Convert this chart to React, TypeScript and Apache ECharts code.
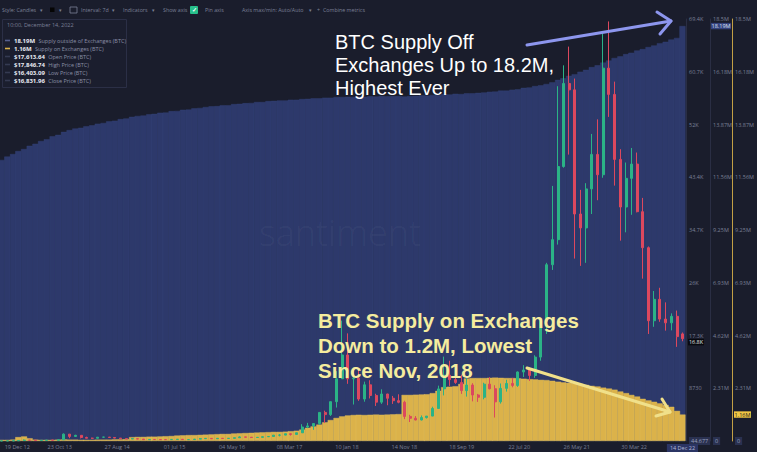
import React, { useEffect, useRef } from 'react';
import * as echarts from 'echarts';

// ---------- data ----------
const months: string[] = [
  '2012-12-15',
  '2013-01-15', '2013-02-15', '2013-03-15', '2013-04-15', '2013-05-15', '2013-06-15', '2013-07-15', '2013-08-15', '2013-09-15', '2013-10-15', '2013-11-15', '2013-12-15',
  '2014-01-15', '2014-02-15', '2014-03-15', '2014-04-15', '2014-05-15', '2014-06-15', '2014-07-15', '2014-08-15', '2014-09-15', '2014-10-15', '2014-11-15', '2014-12-15',
  '2015-01-15', '2015-02-15', '2015-03-15', '2015-04-15', '2015-05-15', '2015-06-15', '2015-07-15', '2015-08-15', '2015-09-15', '2015-10-15', '2015-11-15', '2015-12-15',
  '2016-01-15', '2016-02-15', '2016-03-15', '2016-04-15', '2016-05-15', '2016-06-15', '2016-07-15', '2016-08-15', '2016-09-15', '2016-10-15', '2016-11-15', '2016-12-15',
  '2017-01-15', '2017-02-15', '2017-03-15', '2017-04-15', '2017-05-15', '2017-06-15', '2017-07-15', '2017-08-15', '2017-09-15', '2017-10-15', '2017-11-15', '2017-12-15',
  '2018-01-15', '2018-02-15', '2018-03-15', '2018-04-15', '2018-05-15', '2018-06-15', '2018-07-15', '2018-08-15', '2018-09-15', '2018-10-15', '2018-11-15', '2018-12-15',
  '2019-01-15', '2019-02-15', '2019-03-15', '2019-04-15', '2019-05-15', '2019-06-15', '2019-07-15', '2019-08-15', '2019-09-15', '2019-10-15', '2019-11-15', '2019-12-15',
  '2020-01-15', '2020-02-15', '2020-03-15', '2020-04-15', '2020-05-15', '2020-06-15', '2020-07-15', '2020-08-15', '2020-09-15', '2020-10-15', '2020-11-15', '2020-12-15',
  '2021-01-15', '2021-02-15', '2021-03-15', '2021-04-15', '2021-05-15', '2021-06-15', '2021-07-15', '2021-08-15', '2021-09-15', '2021-10-15', '2021-11-15', '2021-12-15',
  '2022-01-15', '2022-02-15', '2022-03-15', '2022-04-15', '2022-05-15', '2022-06-15', '2022-07-15', '2022-08-15', '2022-09-15', '2022-10-15', '2022-11-15', '2022-12-14',
];

// Supply outside of exchanges, millions BTC
const supplyOutside: number[] = [
  12.32,
  12.47, 12.58, 12.71, 12.80, 12.94, 13.03, 13.15, 13.23, 13.36, 13.42, 13.55, 13.63,
  13.70, 13.73, 13.80, 13.84, 13.91, 13.94, 14.01, 14.04, 14.11, 14.14, 14.21, 14.25,
  14.27, 14.32, 14.34, 14.39, 14.40, 14.46, 14.47, 14.52, 14.53, 14.58, 14.60, 14.64,
  14.67, 14.68, 14.72, 14.72, 14.77, 14.78, 14.81, 14.82, 14.86, 14.86, 14.90, 14.91,
  14.93, 14.93, 14.96, 14.96, 14.99, 15.00, 15.02, 15.02, 15.05, 15.05, 15.08, 15.08,
  15.09, 15.08, 15.10, 15.09, 15.11, 15.10, 15.12, 15.11, 15.12, 15.12, 15.10, 15.12,
  15.13, 15.15, 15.14, 15.17, 15.17, 15.20, 15.19, 15.22, 15.21, 15.24, 15.24, 15.26,
  15.28, 15.31, 15.32, 15.36, 15.36, 15.40, 15.42, 15.48, 15.50, 15.56, 15.59, 15.65,
  15.72, 15.83, 15.90, 16.01, 16.08, 16.19, 16.27, 16.39, 16.47, 16.59, 16.68, 16.79,
  16.86, 16.96, 17.02, 17.12, 17.18, 17.27, 17.34, 17.44, 17.50, 17.60, 17.67, 18.19,
];

// Supply on exchanges, millions BTC
const supplyOn: number[] = [
  0.05,
  0.05, 0.06, 0.17, 0.20, 0.12, 0.06, 0.05, 0.05, 0.05, 0.06, 0.07, 0.06,
  0.06, 0.05, 0.05, 0.05, 0.06, 0.06, 0.06, 0.07, 0.07, 0.08, 0.17, 0.18,
  0.18, 0.19, 0.19, 0.20, 0.21, 0.22, 0.24, 0.25, 0.26, 0.26, 0.27, 0.28,
  0.29, 0.30, 0.31, 0.31, 0.33, 0.34, 0.35, 0.36, 0.37, 0.38, 0.39, 0.40,
  0.40, 0.41, 0.43, 0.45, 0.50, 0.58, 0.64, 0.72, 0.82, 0.92, 1.01, 1.08,
  1.12, 1.14, 1.15, 1.14, 1.15, 1.16, 1.15, 1.16, 1.17, 1.18, 2.02, 2.02,
  2.03, 2.04, 2.05, 2.10, 2.20, 2.36, 2.38, 2.40, 2.50, 2.74, 2.76, 2.76,
  2.76, 2.77, 2.78, 2.77, 2.76, 2.76, 2.75, 2.73, 2.71, 2.70, 2.68, 2.67,
  2.64, 2.60, 2.57, 2.55, 2.54, 2.50, 2.46, 2.42, 2.39, 2.34, 2.30, 2.25,
  2.17, 2.10, 2.02, 1.95, 1.85, 1.78, 1.72, 1.65, 1.58, 1.50, 1.32, 1.16,
];

// BTC price [open, high, low, close], USD
const ohlc: [number, number, number, number][] = [
  [12.5, 13.9, 12.5, 13.5],
  [13.5, 20.4, 13.2, 20.4], [20.4, 33.5, 19.1, 33.4], [33.4, 95, 33.2, 93], [93, 266, 50, 139], [139, 140, 78, 129], [129, 129, 88, 97],
  [97, 111, 65, 106], [106, 140, 102, 140], [140, 140, 117, 133], [133, 210, 100, 204], [204, 1242, 196, 1130], [1130, 1150, 455, 754],
  [754, 1022, 735, 935], [935, 940, 420, 580], [580, 710, 440, 457], [457, 545, 340, 448], [448, 630, 432, 628], [628, 680, 555, 640],
  [640, 650, 570, 580], [580, 600, 440, 480], [480, 490, 365, 386], [386, 415, 290, 338], [338, 460, 320, 378], [378, 455, 310, 320],
  [320, 320, 170, 217], [217, 265, 212, 254], [254, 300, 235, 244], [244, 261, 215, 236], [236, 247, 225, 230], [230, 267, 217, 263],
  [263, 317, 254, 284], [284, 285, 199, 230], [230, 247, 224, 236], [236, 334, 235, 314], [314, 496, 298, 378], [378, 465, 349, 430],
  [430, 462, 354, 369], [369, 448, 366, 437], [437, 439, 404, 416], [416, 467, 414, 448], [448, 548, 444, 531], [531, 780, 510, 673],
  [673, 704, 605, 624], [624, 626, 480, 575], [575, 627, 571, 609], [609, 720, 605, 701], [701, 755, 681, 745], [745, 975, 742, 964],
  [964, 1150, 755, 970], [970, 1210, 940, 1190], [1190, 1290, 890, 1080], [1080, 1350, 1070, 1348], [1348, 2760, 1340, 2300], [2300, 2980, 2110, 2480],
  [2480, 2930, 1840, 2875], [2875, 4740, 2670, 4700], [4700, 4990, 2950, 4340], [4340, 6470, 4120, 6470], [6470, 11500, 5500, 10230], [10230, 19800, 10600, 14150],
  [14150, 17700, 9400, 10220], [10220, 11800, 6000, 10330], [10330, 11700, 6600, 6900], [6900, 9760, 6460, 9240], [9240, 9990, 7000, 7490], [7490, 7770, 5760, 6390],
  [6390, 8500, 6100, 7730], [7730, 7760, 5880, 7030], [7030, 7410, 6100, 6630], [6630, 7680, 6200, 6370], [6370, 6620, 3600, 4040], [4040, 4310, 3120, 3740],
  [3740, 4100, 3400, 3460], [3460, 4200, 3390, 3850], [3850, 4100, 3700, 4100], [4100, 5640, 4080, 5350], [5350, 9100, 5330, 8570], [8570, 13880, 7500, 10820],
  [10820, 13200, 9060, 10090], [10090, 12300, 9400, 9630], [9630, 10900, 7750, 8290], [8290, 10370, 7300, 9200], [9200, 9510, 6520, 7570], [7570, 7740, 6430, 7190],
  [7190, 9580, 6860, 9350], [9350, 10500, 8490, 8600], [8600, 9170, 3860, 6440], [6440, 9460, 6150, 8660], [8660, 10070, 8120, 9460], [9460, 10380, 8830, 9140],
  [9140, 11440, 8900, 11350], [11350, 12470, 10530, 11680], [11680, 12070, 9880, 10780], [10780, 14100, 10380, 13800], [13800, 19750, 13200, 19700], [19700, 29300, 17600, 28990],
  [28990, 41950, 28130, 33110], [33110, 58350, 32300, 45140], [45140, 61780, 44950, 58800], [58800, 64860, 47100, 57750], [57750, 59600, 30000, 37330], [37330, 41300, 28800, 35040],
  [35040, 42400, 29300, 41460], [41460, 50500, 37330, 47130], [47130, 52900, 39600, 43790], [43790, 67000, 43290, 61320], [61320, 69000, 53300, 57000], [57000, 59100, 42000, 46310],
  [46310, 47990, 32950, 38480], [38480, 45800, 34320, 43190], [43190, 48190, 37200, 45540], [45540, 47440, 37600, 37710], [37710, 39980, 26700, 31790], [31790, 31990, 17600, 19780],
  [19780, 24670, 18780, 23300], [23300, 25200, 19600, 20050], [20050, 22800, 18150, 19430], [19430, 20990, 18190, 20500], [20500, 21450, 15480, 17170], [17613.64, 17846.74, 16403.09, 16831.96],
];

const priceTickLabels = ['44.677', '8730', '17.3K', '26K', '34.7K', '43.4K', '52K', '60.7K', '69.4K'];
const supplyTickLabels = ['0', '2.31M', '4.62M', '6.93M', '9.25M', '11.56M', '13.87M', '16.18M', '18.5M'];
const dateTickValues = ['2012-12-19', '2013-10-23', '2014-08-27', '2015-07-01', '2016-05-04', '2017-03-08', '2018-01-10', '2018-11-14', '2019-09-18', '2020-07-22', '2021-05-26', '2022-03-30', '2022-12-14'];
const dateTickLabels = ['19 Dec 12', '23 Oct 13', '27 Aug 14', '01 Jul 15', '04 May 16', '08 Mar 17', '10 Jan 18', '14 Nov 18', '18 Sep 19', '22 Jul 20', '26 May 21', '30 Mar 22', '14 Dec 22'];
const toolbarItems: [string, number][] = [
  ['Style: Candles', 2], ['▾', 40], ['▾', 59], ['Interval: 7d', 81], ['▾', 112], ['Indicators', 123], ['▾', 152],
  ['Show axis', 163], ['Pin axis', 205], ['Axis max/min: Auto/Auto', 242], ['▾', 309], ['+', 317], ['Combine metrics', 323],
];
const whiteNote = 'BTC Supply Off\nExchanges Up to 18.2M,\nHighest Ever';
const yellowNote = 'BTC Supply on Exchanges\nDown to 1.2M, Lowest\nSince Nov, 2018';

// ---------- style ----------
const BG = '#1a1d2c';
const FONT = '"Open Sans", "Noto Sans", sans-serif';
const NOTE_FONT = '"Liberation Sans", Arial, sans-serif';
const GRAY = '#7b8097';
const BLUE = '#2d396b';
const YELLOW = '#dbb24a';
const UP = '#2bb386';
const DOWN = '#dc485e';
const PRICE_STEP = 8675;
const SUPPLY_STEP = 2312500;

const ts = (d: string) => Date.parse(d + 'T00:00:00Z');
const fmtUsd = (v: number) => '$' + v.toLocaleString('en-US', { minimumFractionDigits: 2, maximumFractionDigits: 2 });

export default function App() {
  const ref = useRef<HTMLDivElement>(null);

  useEffect(() => {
    document.body.style.margin = '0';
    document.body.style.background = BG;
    const chart = echarts.init(ref.current!, null, { renderer: 'svg' });
    const tickTimes = dateTickValues.map(ts);

    const yAxisBase = (offset: number, lineColor: string, max: number, step: number, labels: string[]) => ({
      type: 'value',
      position: 'right',
      offset,
      min: 0,
      max,
      interval: step,
      axisLine: { show: true, lineStyle: { color: lineColor, width: 1 } },
      axisTick: { show: false },
      splitLine: { show: false },
      axisLabel: {
        margin: 3,
        fontSize: 5.5,
        color: GRAY,
        fontFamily: FONT,
        formatter: (v: number) => {
          const i = Math.round(v / step);
          return i === 0 ? '{box|' + labels[0] + '}' : labels[i];
        },
        rich: { box: { backgroundColor: '#2a3150', color: '#9aa0c0', padding: [1, 2], fontSize: 5.5, fontFamily: FONT } },
      },
    });

    const option: any = {
      animation: false,
      backgroundColor: BG,
      grid: { left: 0, right: 71, top: 19, bottom: 11 },
      tooltip: { show: false },
      xAxis: {
        type: 'value',
        min: ts('2012-12-07'),
        max: ts('2023-01-02'),
        axisLine: { show: false },
        axisTick: { show: false },
        splitLine: { show: false },
        axisLabel: {
          customValues: tickTimes,
          fontSize: 5.5,
          color: GRAY,
          margin: 3,
          fontFamily: FONT,
          formatter: (v: number) => {
            let i = -1;
            tickTimes.forEach((t, k) => { if (Math.abs(t - v) < 43200000) i = k; });
            if (i < 0) return '';
            if (i === 0) return '{first|' + dateTickLabels[i] + '}';
            if (i === dateTickLabels.length - 1) return '{hl|' + dateTickLabels[i] + '}';
            return dateTickLabels[i];
          },
          rich: {
            first: { padding: [0, 0, 0, 30], fontSize: 5.5, color: GRAY, fontFamily: FONT },
            hl: { backgroundColor: '#2b3564', color: '#b3b9d8', padding: [1, 3], fontSize: 5.5, fontFamily: FONT },
          },
        },
      },
      yAxis: [
        yAxisBase(0, '#2a2e44', PRICE_STEP * 8, PRICE_STEP, priceTickLabels),
        yAxisBase(24, '#2a2e44', SUPPLY_STEP * 8, SUPPLY_STEP, supplyTickLabels),
        yAxisBase(46, '#c2a045', SUPPLY_STEP * 8, SUPPLY_STEP, supplyTickLabels),
      ],
      series: [
        {
          name: 'Supply outside of Exchanges (BTC)',
          type: 'bar',
          yAxisIndex: 1,
          barWidth: 6,
          barGap: '-100%',
          itemStyle: { color: BLUE, borderColor: '#35437a', borderWidth: 0.4 },
          data: months.map((m, i) => [ts(m), supplyOutside[i] * 1e6]),
          z: 1,
        },
        {
          name: 'Supply on Exchanges (BTC)',
          type: 'bar',
          yAxisIndex: 2,
          barWidth: 6,
          barGap: '-100%',
          itemStyle: { color: YELLOW, borderColor: '#e6c35e', borderWidth: 0.4 },
          data: months.map((m, i) => [ts(m), supplyOn[i] * 1e6]),
          z: 2,
        },
        {
          name: 'Price (BTC)',
          type: 'candlestick',
          yAxisIndex: 0,
          barWidth: 2.5,
          encode: { x: 0, y: [1, 2, 3, 4] },
          itemStyle: { color: UP, color0: DOWN, borderColor: UP, borderColor0: DOWN, borderWidth: 1 },
          data: months.map((m, i) => [ts(m), ohlc[i][0], ohlc[i][3], ohlc[i][2], ohlc[i][1]]),
          z: 3,
        },
      ],
    };
    chart.setOption(option);

    const last = months.length - 1;
    const yBlue = chart.convertToPixel({ yAxisIndex: 1 }, supplyOutside[last] * 1e6) as number;
    const yYellow = chart.convertToPixel({ yAxisIndex: 2 }, supplyOn[last] * 1e6) as number;
    const yPrice = chart.convertToPixel({ yAxisIndex: 0 }, ohlc[last][3]) as number;

    const legendRows = [
      { v: supplyOutside[last].toFixed(2) + 'M', n: 'Supply outside of Exchanges (BTC)', mark: '#56608f' },
      { v: supplyOn[last].toFixed(2) + 'M', n: 'Supply on Exchanges (BTC)', mark: YELLOW },
      { v: fmtUsd(ohlc[last][0]), n: 'Open Price (BTC)', mark: '#353a52' },
      { v: fmtUsd(ohlc[last][1]), n: 'High Price (BTC)', mark: '#353a52' },
      { v: fmtUsd(ohlc[last][2]), n: 'Low Price (BTC)', mark: '#353a52' },
      { v: fmtUsd(ohlc[last][3]), n: 'Close Price (BTC)', mark: '#353a52' },
    ];

    const g: any[] = [];
    const wm = { type: 'text', x: 340, y: 232, silent: true, z: 50, style: { text: 'santiment', fill: 'rgba(255,255,255,0.05)', font: '300 36px ' + FONT, align: 'center', verticalAlign: 'middle' } };
    toolbarItems.forEach(([t, x]) => {
      g.push({ type: 'text', x, y: 10, style: { text: t, fill: GRAY, font: '5.3px ' + FONT, verticalAlign: 'middle' } });
    });
    g.push({ type: 'rect', shape: { x: 50, y: 7.5, width: 4.5, height: 4.5 }, style: { fill: '#050505' } });
    g.push({ type: 'rect', shape: { x: 70, y: 7, width: 7, height: 6 }, style: { fill: 'none', stroke: GRAY, lineWidth: 0.8 } });
    g.push({ type: 'rect', shape: { x: 190, y: 6, width: 8, height: 8, r: 1 }, style: { fill: '#27c08b' } });
    g.push({ type: 'text', x: 194, y: 10, style: { text: '✓', fill: '#ffffff', font: 'bold 6px ' + FONT, align: 'center', verticalAlign: 'middle' } });
    g.push({ type: 'rect', shape: { x: 2.5, y: 19.5, width: 124, height: 68 }, style: { fill: '#1b1e2e', stroke: '#2b2f46', lineWidth: 1 } });
    g.push({ type: 'text', x: 7, y: 25, style: { text: '10:00, December 14, 2022', fill: GRAY, font: '5.5px ' + FONT, verticalAlign: 'middle' } });
    legendRows.forEach((r, i) => {
      const y = 40.5 + i * 8;
      g.push({ type: 'rect', shape: { x: 5, y: y - 0.8, width: 5, height: 1.6 }, style: { fill: r.mark } });
      g.push({
        type: 'text', x: 14, y,
        style: {
          text: '{v|' + r.v + '} {n|' + r.n + '}', verticalAlign: 'middle',
          rich: {
            v: { fill: '#e8eaf2', font: 'bold 6px ' + FONT },
            n: { fill: '#8a8fa6', font: '5.5px ' + FONT },
          },
        },
      });
    });
    g.push({ type: 'text', x: 335, y: 64.5, style: { text: whiteNote, fill: '#ffffff', font: '20px ' + NOTE_FONT, lineHeight: 23, verticalAlign: 'middle' } });
    g.push({ type: 'text', x: 318, y: 345.5, style: { text: yellowNote, fill: '#f5ec9e', font: 'bold 20.5px ' + NOTE_FONT, lineHeight: 25, verticalAlign: 'middle' } });
    const arrowW = '#8d96ee';
    g.push({ type: 'line', shape: { x1: 527, y1: 45, x2: 671, y2: 21 }, style: { stroke: arrowW, lineWidth: 3, lineCap: 'round' } });
    g.push({ type: 'polyline', shape: { points: [[657, 12], [671, 21], [660, 34]] }, style: { stroke: arrowW, lineWidth: 3, fill: 'none', lineCap: 'round', lineJoin: 'round' } });
    const arrowY = '#f0e08a';
    g.push({ type: 'line', shape: { x1: 527, y1: 368, x2: 670, y2: 412 }, style: { stroke: arrowY, lineWidth: 3, lineCap: 'round' } });
    g.push({ type: 'polyline', shape: { points: [[662, 399], [670, 412], [656, 416]] }, style: { stroke: arrowY, lineWidth: 3, fill: 'none', lineCap: 'round', lineJoin: 'round' } });
    const badge = (x: number, y: number, w: number, text: string, bg: string, fg: string) => {
      g.push({ type: 'rect', shape: { x, y: y - 3.2, width: w, height: 6.4 }, style: { fill: bg } });
      g.push({ type: 'text', x: x + w / 2, y, style: { text, fill: fg, font: '5.5px ' + FONT, lineHeight: 6, align: 'center', verticalAlign: 'middle' } });
    };
    badge(711, yBlue, 20, legendRows[0].v, '#34427e', '#dfe3f5');
    badge(688, yPrice + 3.5, 16, (ohlc[last][3] / 1000).toFixed(1) + 'K', '#08090f', '#e4e4e4');
    badge(734, yYellow, 17, legendRows[1].v, '#f1c644', '#1d1d1d');

    g.forEach((el) => { el.z = 100; });
    g.unshift(wm);
    chart.setOption({ graphic: { elements: g } });
    return () => chart.dispose();
  }, []);

  return <div ref={ref} style={{ width: 757, height: 452, background: BG }} />;
}
